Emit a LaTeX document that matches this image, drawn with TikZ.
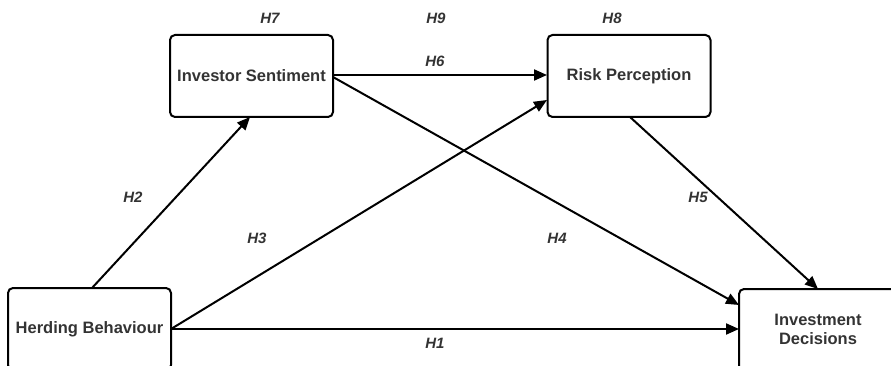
\documentclass[tikz,border=0pt]{standalone}
\usepackage{fontspec}
\setmainfont{Liberation Sans}
\usetikzlibrary{arrows.meta}
\definecolor{txt}{HTML}{333333}
\begin{document}
\begin{tikzpicture}[x=1pt,y=-1pt,
  box/.style={draw=black,line width=2pt,rounded corners=5pt,minimum width=163pt,minimum height=82pt,inner sep=0pt,align=center,font=\fontsize{16.5}{19}\selectfont\bfseries,text=txt},
  bt/.style={font=\fontsize{16.5}{19}\selectfont\bfseries,text=txt,align=center,inner sep=0pt},
  hl/.style={font=\fontsize{15}{17}\selectfont\bfseries\itshape,text=txt,inner sep=0pt},
  arr/.style={line width=2pt,-{Triangle[length=13pt,width=11pt]}}]
\useasboundingbox (0,0) rectangle (891,366);
\begin{scope}
\clip (0,0) rectangle (891,366);
\node[box] (is) at (251.5,76) {Investor Sentiment};
\node[box] (rp) at (629,76) {Risk Perception};
\node[box] (hb) at (89.5,329) {};
\node[bt] (hbt) at (89.5,329) {Herding Behaviour};
\node[box] (id) at (820.5,330) {};
\node[bt] (idt) at (818,329) {Investment\\Decisions};
\coordinate (a2s) at (92,288);
\coordinate (a2e) at (250,117);
\coordinate (hbr) at (171,329);
\coordinate (idl) at (739,329);
\coordinate (idl2) at (739,305);
\coordinate (rpl) at (547,75);
\coordinate (rpl2) at (547,100);
\coordinate (isr) at (333,75);
\coordinate (isr2) at (333,77);
\coordinate (rpb) at (630,117);
\coordinate (idt2) at (818,289);
\draw[arr] (a2s) -- (a2e);
\draw[arr] (hbr) -- (rpl2);
\draw[arr] (hbr) -- (idl);
\draw[arr] (isr) -- (rpl);
\draw[arr] (isr2) -- (idl2);
\draw[arr] (rpb) -- (idt2);
\end{scope}
\node[hl] (h7) at (270,18) {H7};
\node[hl] (h9) at (436,18) {H9};
\node[hl] (h8) at (612,18) {H8};
\node[hl] (h6) at (435,61) {H6};
\node[hl] (h2) at (133,197) {H2};
\node[hl] (h3) at (257,238) {H3};
\node[hl] (h4) at (557,238) {H4};
\node[hl] (h5) at (698,197) {H5};
\node[hl] (h1) at (435,343) {H1};
\end{tikzpicture}
\end{document}
